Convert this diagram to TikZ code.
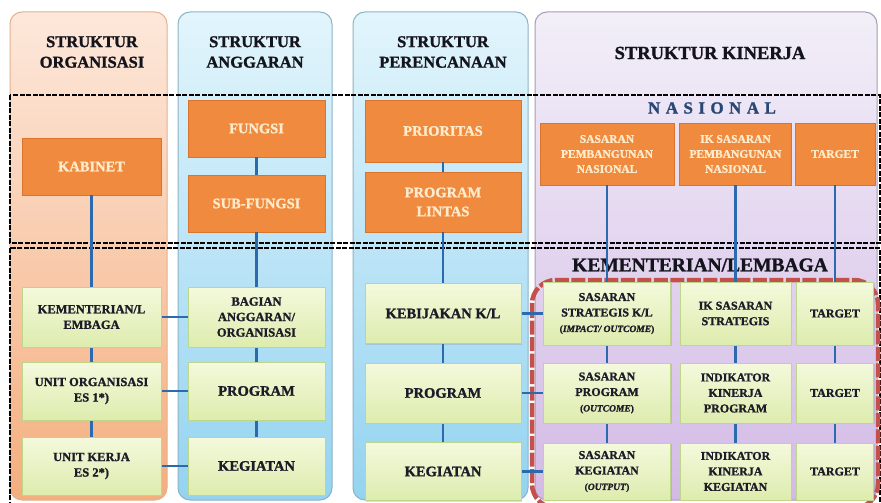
\documentclass[tikz,border=0pt]{standalone}
\usepackage{fontspec}
\setmainfont{Liberation Serif}[BoldFeatures={FakeBold=1.3}, BoldItalicFeatures={FakeBold=1.3}]
\usetikzlibrary{shadows}
\definecolor{ponetop}{HTML}{FDE8DB}
\definecolor{ponebot}{HTML}{F4AE7E}
\definecolor{ponedraw}{HTML}{E2B290}
\definecolor{ptwotop}{HTML}{E2F5FC}
\definecolor{ptwobot}{HTML}{94D3F0}
\definecolor{ptwodraw}{HTML}{8DB3C6}
\definecolor{pfourtop}{HTML}{F2EFF8}
\definecolor{pfourbot}{HTML}{D3BAE6}
\definecolor{pfourdraw}{HTML}{A89BB5}
\definecolor{orgfill}{HTML}{F08A3E}
\definecolor{orgdraw}{HTML}{D9732E}
\definecolor{orgtext}{HTML}{FDEBCC}
\definecolor{grtop}{HTML}{F4F9DC}
\definecolor{grbot}{HTML}{DDECAE}
\definecolor{grdraw}{HTML}{BED68A}
\definecolor{gtext}{HTML}{1C1C28}
\definecolor{lineblue}{HTML}{2C6AB0}
\definecolor{redd}{HTML}{C4504C}
\definecolor{navyc}{HTML}{2A4675}
\definecolor{titlec}{HTML}{14141C}
\begin{document}
\begin{tikzpicture}[x=1pt,y=-1pt,
  wh/.style 2 args={minimum width=#1pt, minimum height=#2pt},
  panel/.style={rounded corners=12pt, line width=1pt},
  obox/.style={draw=orgdraw, line width=0.8pt, fill=orgfill, text=orgtext, align=center, inner sep=2pt,
     font=\bfseries\fontsize{14.5}{19}\selectfont},
  osmall/.style={obox, font=\bfseries\fontsize{11.5}{15}\selectfont},
  gbox/.style={draw=grdraw, line width=1pt, top color=grtop, bottom color=grbot, text=gtext, align=center, inner sep=2pt,
     drop shadow={shadow xshift=1.2pt, shadow yshift=-1.2pt, opacity=0.25},
     font=\bfseries\fontsize{12.5}{15.5}\selectfont},
  gbig/.style={gbox, font=\bfseries\fontsize{14.5}{18}\selectfont},
  gfour/.style={gbox, font=\bfseries\fontsize{12}{15.5}\selectfont},
  title/.style={text=titlec, align=center, font=\bfseries\fontsize{16.5}{20.5}\selectfont},
  conn/.style={draw=lineblue, line width=2.5pt},
  blackdash/.style={draw=black, line width=2.5pt, dash pattern=on 5pt off 1.5pt},
  reddash/.style={draw=redd, line width=4.5pt, dash pattern=on 14pt off 2.5pt, rounded corners=24pt}
]
\useasboundingbox (0,0) rectangle (881,503);
\fill[white] (0,0) rectangle (881,503);

% column panels
\draw[panel, draw=ponedraw, top color=ponetop, bottom color=ponebot] (10,12) rectangle (167,500);
\draw[panel, draw=ptwodraw, top color=ptwotop, bottom color=ptwobot] (178,12) rectangle (332,500);
\draw[panel, draw=ptwodraw, top color=ptwotop, bottom color=ptwobot] (353,12) rectangle (528,500);
\draw[panel, draw=pfourdraw, top color=pfourtop, bottom color=pfourbot] (535,12) rectangle (877,500);

% titles
\node[title] (t1) at (92,52) {STRUKTUR\\ORGANISASI};
\node[title] (t2) at (255,52) {STRUKTUR\\ANGGARAN};
\node[title] (t3) at (443,52) {STRUKTUR\\PERENCANAAN};
\node[title, font=\bfseries\fontsize{18.5}{22}\selectfont] (t4) at (710,53) {STRUKTUR KINERJA};

% dashed frames
\draw[blackdash] (10,95) rectangle (880,243);
\draw[blackdash] (10,248) rectangle (880,515);

% section labels
\node[text=navyc, font=\bfseries\fontsize{17}{20}\selectfont\addfontfeatures{LetterSpace=32}] (nas) at (712,108) {NASIONAL};
\node[text=titlec, font=\bfseries\fontsize{19.5}{22}\selectfont] (kl) at (700,265) {KEMENTERIAN/LEMBAGA};

% red dashed frame
\draw[reddash] (532,280) rectangle (878,508);

% orange boxes
\node[obox, wh={139}{57}] (kab) at (91.5,166.5) {KABINET};
\node[obox, wh={137}{57}] (fun) at (256.5,128.5) {FUNGSI};
\node[obox, wh={137}{57}] (sub) at (256.5,203.5) {SUB-FUNGSI};
\node[obox, wh={156}{62}] (pri) at (443,131) {PRIORITAS};
\node[obox, wh={156}{60}] (pl) at (443,202) {PROGRAM\\LINTAS};
\node[osmall, wh={134}{62}] (spn) at (607,154) {SASARAN\\PEMBANGUNAN\\NASIONAL};
\node[osmall, wh={112}{62}] (ikn) at (735.5,154) {IK SASARAN\\PEMBANGUNAN\\NASIONAL};
\node[osmall, wh={80}{62}] (tgn) at (835,154) {TARGET};

% green boxes column 1
\node[gbox, wh={139}{60}] (kem) at (91.5,317) {KEMENTERIAN/L\\EMBAGA};
\node[gbox, wh={139}{58}] (uo) at (91.5,391) {UNIT ORGANISASI\\ES 1*)};
\node[gbox, wh={139}{58}] (uk) at (91.5,466) {UNIT KERJA\\ES 2*)};
% column 2
\node[gbox, wh={137}{60}] (bag) at (256.5,317) {BAGIAN\\ANGGARAN/\\ORGANISASI};
\node[gbig, wh={137}{58}] (prgb) at (256.5,391) {PROGRAM};
\node[gbig, wh={137}{58}] (kegb) at (256.5,466) {KEGIATAN};
% column 3
\node[gbig, wh={156}{60}] (keb) at (443,313.5) {KEBIJAKAN K/L};
\node[gbig, wh={156}{60}] (prgc) at (443,393) {PROGRAM};
\node[gbig, wh={156}{58}] (kegc) at (443,471.5) {KEGIATAN};
% column 4
\node[gfour, wh={127}{63}] (ss) at (607,313.5) {SASARAN\\STRATEGIS K/L\\{\fontsize{9.5}{10.5}\selectfont(\textit{IMPACT/ OUTCOME})}};
\node[gfour, wh={127}{60}] (sp) at (607,393) {SASARAN\\PROGRAM\\{\fontsize{9.5}{10.5}\selectfont(\textit{OUTCOME})}};
\node[gfour, wh={127}{57}] (sk) at (607,471.5) {SASARAN\\KEGIATAN\\{\fontsize{9.5}{10.5}\selectfont(\textit{OUTPUT})}};
\node[gfour, wh={111}{63}] (iks) at (735.5,313.5) {IK SASARAN\\STRATEGIS};
\node[gfour, wh={111}{60}] (ikp) at (735.5,393) {INDIKATOR\\KINERJA\\PROGRAM};
\node[gfour, wh={111}{57}] (ikk) at (735.5,471.5) {INDIKATOR\\KINERJA\\KEGIATAN};
\node[gfour, wh={77}{63}] (tga) at (835,313.5) {TARGET};
\node[gfour, wh={77}{60}] (tgb) at (835,393) {TARGET};
\node[gfour, wh={77}{57}] (tgc) at (835,471.5) {TARGET};

% connectors: verticals
\draw[conn] (kab.south) -- (kem.north);
\draw[conn] (kem.south) -- (uo.north);
\draw[conn] (uo.south) -- (uk.north);
\draw[conn] (fun.south) -- (sub.north);
\draw[conn] (sub.south) -- (bag.north);
\draw[conn] (bag.south) -- (prgb.north);
\draw[conn] (prgb.south) -- (kegb.north);
\draw[conn] (pri.south) -- (pl.north);
\draw[conn] (pl.south) -- (keb.north);
\draw[conn] (keb.south) -- (prgc.north);
\draw[conn] (prgc.south) -- (kegc.north);
\draw[conn] (spn.south) -- (ss.north);
\draw[conn] (ss.south) -- (sp.north);
\draw[conn] (sp.south) -- (sk.north);
\draw[conn] (ikn.south) -- (iks.north);
\draw[conn] (iks.south) -- (ikp.north);
\draw[conn] (ikp.south) -- (ikk.north);
\draw[conn] (tgn.south) -- (tga.north);
\draw[conn] (tga.south) -- (tgb.north);
\draw[conn] (tgb.south) -- (tgc.north);
% connectors: horizontals
\draw[conn] (kem.east) -- (bag.west);
\draw[conn] (uo.east) -- (prgb.west);
\draw[conn] (uk.east) -- (kegb.west);
\draw[conn] (keb.east) -- (ss.west);
\draw[conn] (prgc.east) -- (sp.west);
\draw[conn] (kegc.east) -- (sk.west);
\end{tikzpicture}
\end{document}
